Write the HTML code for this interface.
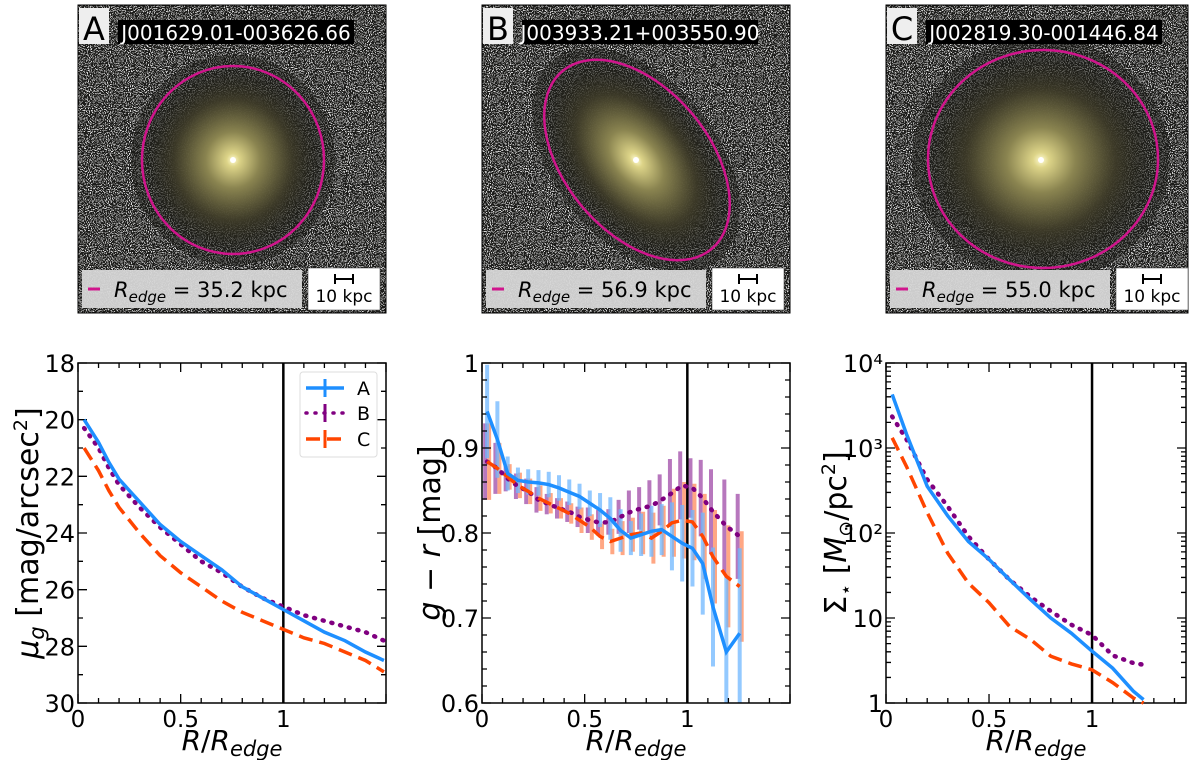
<!DOCTYPE html>
<html><head><meta charset="utf-8"><style>
body{margin:0;background:#fff;}
svg text{font-family:"DejaVu Sans","Liberation Sans",sans-serif;}
</style></head><body>
<svg id="fig" width="1200" height="760" viewBox="0 0 1200 760" xmlns="http://www.w3.org/2000/svg">
<defs>
<filter id="noise" x="0" y="0" width="100%" height="100%">
<feTurbulence type="fractalNoise" baseFrequency="0.95" numOctaves="1" seed="3" result="t"/>
<feColorMatrix type="matrix" values="0 0 0 0 0  0 0 0 0 0  0 0 0 0 0  0 0 0 -20 9.2" in="t" result="m"/>
<feFlood flood-color="#dcdcdc"/><feComposite in2="m" operator="in"/>
</filter>
<radialGradient id="glow"><stop offset="0" stop-color="#fffbd0"/><stop offset="0.07" stop-color="#ddd488"/><stop offset="0.3" stop-color="#8a8450"/><stop offset="0.65" stop-color="#3e3b28" stop-opacity="0.92"/><stop offset="1" stop-color="#202018" stop-opacity="0"/></radialGradient>
<clipPath id="cA"><rect x="78" y="5" width="308" height="308"/></clipPath>
<clipPath id="cB"><rect x="482" y="5" width="308" height="308"/></clipPath>
<clipPath id="cC"><rect x="886" y="5" width="302" height="308"/></clipPath>
</defs>
<g id="images"></g>
<g id="plots"></g>
</svg>
<script>
// ---- data ----
const rMu = [0.03,0.1,0.15,0.2,0.3,0.4,0.5,0.6,0.7,0.8,0.9,1.0,1.1,1.2,1.3,1.4,1.49];
const muA = [20.0,20.8,21.5,22.1,22.9,23.7,24.3,24.8,25.3,25.9,26.3,26.7,27.1,27.5,27.8,28.2,28.5];
const muB = [20.3,21.0,21.7,22.3,23.1,23.8,24.4,25.0,25.4,25.9,26.3,26.6,26.9,27.1,27.3,27.5,27.8];
const muC = [21.0,21.8,22.5,23.1,24.0,24.8,25.4,25.9,26.4,26.8,27.1,27.4,27.7,27.9,28.2,28.5,28.9];
const rCol = [0.025,0.075,0.125,0.175,0.225,0.275,0.325,0.375,0.425,0.475,0.525,0.575,0.625,0.675,0.725,0.775,0.825,0.875,0.925,0.975,1.025,1.075,1.125,1.19,1.255];
const colA = [0.943,0.91,0.87,0.862,0.86,0.859,0.857,0.853,0.848,0.843,0.835,0.827,0.817,0.803,0.794,0.798,0.802,0.804,0.796,0.788,0.782,0.764,0.713,0.66,0.682];
const errA = [0.055,0.045,0.02,0.015,0.015,0.015,0.015,0.015,0.015,0.015,0.015,0.02,0.025,0.025,0.02,0.025,0.03,0.03,0.04,0.045,0.045,0.06,0.07,0.09,0.1];
const colB = [0.884,0.876,0.864,0.855,0.849,0.839,0.834,0.829,0.825,0.819,0.815,0.812,0.813,0.819,0.825,0.829,0.832,0.839,0.847,0.856,0.853,0.841,0.825,0.808,0.796];
const errB = [0.045,0.03,0.015,0.015,0.015,0.015,0.012,0.012,0.012,0.012,0.015,0.015,0.015,0.02,0.025,0.025,0.03,0.03,0.04,0.04,0.035,0.045,0.05,0.055,0.05];
const colC = [0.884,0.876,0.866,0.856,0.849,0.841,0.835,0.829,0.823,0.815,0.807,0.796,0.79,0.794,0.798,0.8,0.794,0.802,0.812,0.815,0.813,0.796,0.772,0.749,0.737];
const errC = [0.045,0.03,0.015,0.015,0.015,0.015,0.012,0.012,0.012,0.015,0.015,0.015,0.015,0.02,0.02,0.025,0.03,0.03,0.04,0.045,0.045,0.05,0.055,0.06,0.065];
const rSig = [0.03,0.1,0.2,0.3,0.4,0.5,0.6,0.7,0.8,0.9,1.0,1.1,1.2,1.25];
const sigA = [3.63,3.16,2.55,2.2,1.9,1.69,1.45,1.22,1.0,0.82,0.61,0.41,0.14,0.04];
const sigB = [3.37,3.1,2.63,2.31,1.96,1.69,1.45,1.25,1.08,0.92,0.8,0.56,0.47,0.45];
const sigC = [3.12,2.78,2.24,1.76,1.41,1.18,0.9,0.75,0.55,0.46,0.39,0.24,0.06,0.0];
const xTicks = [0,0.5,1];
const xTickLabels = ["0","0.5","1"];
const muTicks = [18,20,22,24,26,28,30];
const colTicks = [0.6,0.7,0.8,0.9,1.0];
const colTickLabels = ["0.6","0.7","0.8","0.9","1"];
const sigTicks = [0,1,2,3,4];
const sigTickLabels = ["1","10","10²","10³","10⁴"];

const NS="http://www.w3.org/2000/svg";
function mk(tag,attrs,parent,txt){const e=document.createElementNS(NS,tag);for(const k in attrs)e.setAttribute(k,attrs[k]);if(txt!==undefined)e.textContent=txt;parent.appendChild(e);return e;}
const blue="#1e8fff",purple="#800080",orange="#ff4500";
const DOT='1 8';

// ---- images ----
const imgs=document.getElementById('images');
const panels=[
 {k:'A',x:78,w:308,cx:233,cy:160,rx:91,ry:94,rot:0,gx:233,gy:160,name:'J001629.01-003626.66',re:'35.2'},
 {k:'B',x:482,w:308,cx:637,cy:160,rx:72,ry:116,rot:-40,gx:636,gy:160,name:'J003933.21+003550.90',re:'56.9'},
 {k:'C',x:886,w:302,cx:1043,cy:159,rx:115,ry:109,rot:0,gx:1041,gy:160,name:'J002819.30-001446.84',re:'55.0'}];
panels.forEach(p=>{
 const g=mk('g',{'clip-path':'url(#c'+p.k+')'},imgs);
 
 
 mk('rect',{x:p.x,y:5,width:p.w,height:308,fill:'#1c1c1a'},g);
 mk('rect',{x:p.x,y:5,width:p.w,height:308,filter:'url(#noise)'},g);
 mk('ellipse',{cx:p.gx,cy:p.gy,rx:p.rx*1.12,ry:p.ry*1.12,fill:'#1a1a16',opacity:0.45,transform:`rotate(${p.rot} ${p.gx} ${p.gy})`},g);
 mk('ellipse',{cx:p.gx,cy:p.gy,rx:p.rx*1.0,ry:p.ry*1.0,fill:'url(#glow)',transform:`rotate(${p.rot} ${p.gx} ${p.gy})`},g);
 mk('circle',{cx:p.gx,cy:p.gy,r:3,fill:'#fff'},g);
 const el=mk('ellipse',{cx:p.cx,cy:p.cy,rx:p.rx,ry:p.ry,fill:'none',stroke:'#d0158c','stroke-width':2.5,transform:`rotate(${p.rot} ${p.cx} ${p.cy})`},g);
 
 
 mk('rect',{x:p.x,y:5,width:p.w,height:308,fill:'none',stroke:'#000','stroke-width':1},imgs);
 mk('rect',{x:p.x+1,y:8,width:30,height:36,fill:'#eee'},imgs);
 const lt=mk('text',{x:p.x+16,y:40,'font-size':32,'text-anchor':'middle',fill:'#000'},imgs,p.k);
 
 
 mk('rect',{x:p.x+40,y:20,width:236,height:24,fill:'#000'},imgs);
 const nt=mk('text',{x:p.x+158,y:40,'font-size':20,'text-anchor':'middle',fill:'#fff'},imgs,p.name);
 
 
 mk('rect',{x:p.x+4,y:270,width:220,height:38,fill:'#d6d6d6',opacity:0.95},imgs);
 mk('line',{x1:p.x+10,y1:289,x2:p.x+22,y2:289,stroke:'#d0158c','stroke-width':3},imgs);
 const rt=mk('text',{x:p.x+36,y:297,'font-size':21,fill:'#000'},imgs);
 
 
 mk('tspan',{'font-style':'italic'},rt,'R');
 mk('tspan',{'font-style':'italic','font-size':15,dy:5},rt,'edge');
 mk('tspan',{dy:-5},rt,' = '+p.re+' kpc');
 mk('rect',{x:p.x+230,y:268,width:72,height:42,fill:'#fff',stroke:'#333','stroke-width':0.5},imgs);
 mk('path',{d:`M${p.x+257} 279 H${p.x+275} M${p.x+257} 274 V284 M${p.x+275} 274 V284`,stroke:'#000','stroke-width':2,fill:'none'},imgs);
 const st=mk('text',{x:p.x+266,y:302,'font-size':17,'text-anchor':'middle',fill:'#000'},imgs,'10 kpc');
 
 
});

// ---- plots ----
const plots=document.getElementById('plots');
const T=363,B=703;
function axes(L,R,xmax,ymin,ymax,invert,yt,ytl,minorY,name){
 const g=mk('g',{},plots);
 
 
 const sx=v=>L+(v/xmax)*(R-L);
 const sy=v=>invert?T+(v-ymin)/(ymax-ymin)*(B-T):B-(v-ymin)/(ymax-ymin)*(B-T);
 return {g,sx,sy,L,R,xmax,ymin,ymax,yt,ytl,minorY};
}
function frame(a){
 const g=a.g;
 let d='';
 for(let v=0;v<=a.xmax+1e-9;v+=0.1){const x=a.sx(v);const maj=Math.abs(v*2-Math.round(v*2))<1e-6;const l=maj?9:5;d+=`M${x} ${B}v${-l}M${x} ${T}v${l}`;}
 a.minorY.forEach(v=>{const y=a.sy(v);d+=`M${a.L} ${y}h5M${a.R} ${y}h-5`;});
 a.yt.forEach(v=>{const y=a.sy(v);d+=`M${a.L} ${y}h9M${a.R} ${y}h-9`;});
 mk('path',{d,stroke:'#000','stroke-width':1.3,fill:'none'},g);
 mk('rect',{x:a.L,y:T,width:a.R-a.L,height:B-T,fill:'none',stroke:'#000','stroke-width':1.5},g);
 const vl=mk('line',{x1:a.sx(1),x2:a.sx(1),y1:T,y2:B,stroke:'#000','stroke-width':2.5},g);
 
 
 xTicks.forEach((v,i)=>{const t=mk('text',{x:a.sx(v),y:B+24,'font-size':23,'text-anchor':'middle'},g,xTickLabels[i]);
  });
 a.yt.forEach((v,i)=>{const t=mk('text',{x:a.L-3,y:a.sy(v)+9,'font-size':24,'text-anchor':'end'},g,a.ytl[i]);
  });
 const xl=mk('text',{x:(a.L+a.R)/2,y:B+47,'font-size':28,'text-anchor':'middle'},g);
 
 mk('tspan',{'font-style':'italic'},xl,'R');mk('tspan',{},xl,'/');mk('tspan',{'font-style':'italic'},xl,'R');
 mk('tspan',{'font-style':'italic','font-size':21,dy:6},xl,'edge');
}
function line(a,xs,ys,color,dash,w,name){
 const pts=xs.map((x,i)=>a.sx(x)+','+a.sy(ys[i])).join(' ');
 const p=mk('polyline',{points:pts,fill:'none',stroke:color,'stroke-width':w,'stroke-dasharray':dash,'stroke-linecap':dash===DOT?'round':'butt'},a.g);
 
}
// panel 1
const mMinor=[19,21,23,25,27,29];
const a1=axes(78,386,1.5,18,30,true,muTicks,muTicks.map(String),mMinor,'mu-g-panel');
frame(a1);
line(a1,rMu,muC,orange,'14 7',3.5,'series-c');
line(a1,rMu,muB,purple,DOT,4.5,'series-b');
line(a1,rMu,muA,blue,'',3.5,'series-a');
const lg=mk('g',{},a1.g);
mk('rect',{x:300,y:372,width:77,height:85,rx:3,fill:'#fff',stroke:'#ddd'},lg);
[[blue,'',"A",388],[purple,DOT,"B",413],[orange,'14 7',"C",439]].forEach(([c,d,t,y])=>{
 const e=mk('g',{},lg);
 mk('line',{x1:306,x2:344,y1:y,y2:y,stroke:c,'stroke-width':3.5,'stroke-dasharray':d,'stroke-linecap':d===DOT?'round':'butt'},e);
 mk('line',{x1:325,x2:325,y1:y-9,y2:y+9,stroke:c,'stroke-width':3},e);
 mk('text',{x:357,y:y+7,'font-size':19},e,t);
});
const y1t=mk('text',{transform:'translate(38,533) rotate(-90)','font-size':30,'text-anchor':'middle'},a1.g);

mk('tspan',{'font-style':'italic'},y1t,'μ');mk('tspan',{'font-style':'italic','font-size':21,dy:6},y1t,'g');
mk('tspan',{dy:-6},y1t,' [mag/arcsec');mk('tspan',{'font-size':19,dy:-11},y1t,'2');mk('tspan',{dy:11},y1t,']');

// panel 2
const cMinor=[];for(let v=0.62;v<1;v+=0.02)cMinor.push(+v.toFixed(2));
const a2=axes(482,790,1.5,0.6,1.0,false,colTicks,colTickLabels,cMinor,'color-panel');
const eg=mk('g',{},a2.g);
[[colB,errB,'#a04aa8',-2],[colC,errC,'#ff8a5c',2],[colA,errA,'#70b8ff',0]].forEach(([ys,es,c,off])=>{
 rCol.forEach((r,i)=>{const x=a2.sx(r)+off;mk('line',{x1:x,x2:x,y1:Math.max(T,a2.sy(ys[i]+es[i])),y2:Math.min(B,a2.sy(ys[i]-es[i])),stroke:c,'stroke-width':4,opacity:0.75},eg);});
});
frame(a2);
line(a2,rCol,colB,purple,DOT,4.5,'series-b');
line(a2,rCol,colC,orange,'14 7',3.5,'series-c');
line(a2,rCol,colA,blue,'',3.5,'series-a');
const y2t=mk('text',{transform:'translate(440,533) rotate(-90)','font-size':30,'text-anchor':'middle'},a2.g);

mk('tspan',{'font-style':'italic'},y2t,'g');mk('tspan',{},y2t,' − ');mk('tspan',{'font-style':'italic'},y2t,'r');mk('tspan',{},y2t,' [mag]');

// panel 3
const sMinor=[];for(let d=0;d<4;d++)for(let m=2;m<10;m++)sMinor.push(d+Math.log10(m));
const a3=axes(886,1186,1.456,0,4,false,sigTicks,sigTickLabels,sMinor,'stellar-mass-panel');
frame(a3);
line(a3,rSig,sigC,orange,'14 7',3.5,'series-c');
line(a3,rSig,sigB,purple,DOT,4.5,'series-b');
line(a3,rSig,sigA,blue,'',3.5,'series-a');
const y3t=mk('text',{transform:'translate(846,533) rotate(-90)','font-size':30,'text-anchor':'middle'},a3.g);

mk('tspan',{},y3t,'Σ');mk('tspan',{'font-size':19,dy:6},y3t,'⋆');mk('tspan',{dy:-6},y3t,' [');
mk('tspan',{'font-style':'italic'},y3t,'M');mk('tspan',{'font-size':19,dy:6},y3t,'⊙');mk('tspan',{dy:-6},y3t,'/pc');
mk('tspan',{'font-size':19,dy:-11},y3t,'2');mk('tspan',{dy:11},y3t,']');
</script>
</body></html>
